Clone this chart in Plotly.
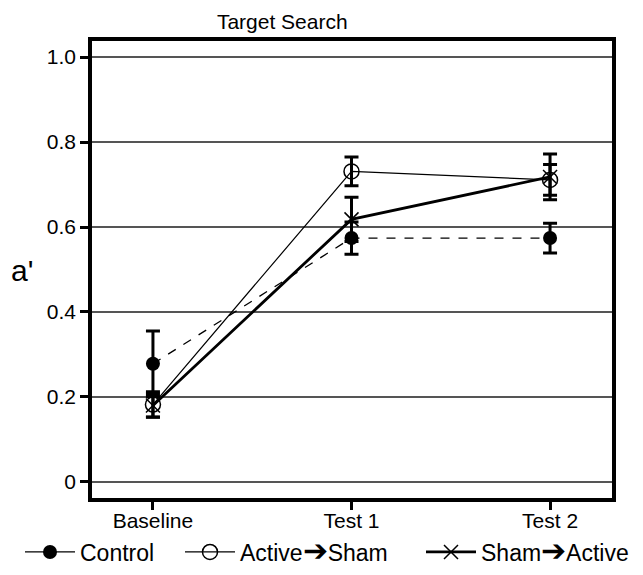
import plotly.graph_objects as go

categories = ["Baseline", "Test 1", "Test 2"]
control = [0.278, 0.574, 0.574]
control_err = [0.077, 0.038, 0.035]
active_sham = [0.182, 0.731, 0.711]
active_sham_err = [0.030, 0.034, 0.036]
sham_active = [0.180, 0.618, 0.718]
sham_active_err = [0.027, 0.052, 0.054]
yticks = [0, 0.2, 0.4, 0.6, 0.8, 1.0]
ytick_labels = ["0", "0.2", "0.4", "0.6", "0.8", "1.0"]

xpos = list(range(len(categories)))
font = "Liberation Sans, Arial, sans-serif"
arrow = '<span style="font-size:30px">➔</span>'

fig = go.Figure()
fig.add_trace(go.Scatter(
    x=xpos, y=control, name="Control", mode="lines+markers", showlegend=False,
    line=dict(color="black", width=1.3, dash="dash"),
    marker=dict(symbol="circle", size=14, color="black"),
    error_y=dict(type="data", array=control_err, color="black", thickness=3, width=7),
))
# legend entry for Control (solid line sample, as in the reference legend)
fig.add_trace(go.Scatter(
    x=[None], y=[None], name="Control", mode="lines+markers", legend="legend",
    line=dict(color="black", width=1.3),
    marker=dict(symbol="circle", size=14, color="black"),
))
fig.add_trace(go.Scatter(
    x=xpos, y=active_sham, name="Active" + arrow + "Sham", mode="lines+markers", legend="legend2",
    line=dict(color="black", width=1.2),
    marker=dict(symbol="circle-open", size=15, color="black", line=dict(width=1.5)),
    error_y=dict(type="data", array=active_sham_err, color="black", thickness=3, width=7),
))
fig.add_trace(go.Scatter(
    x=xpos, y=sham_active, name="Sham" + arrow + "Active", mode="lines+markers", legend="legend3",
    line=dict(color="black", width=2.8),
    marker=dict(symbol="x-thin", size=14, color="black", line=dict(width=1.5, color="black")),
    error_y=dict(type="data", array=sham_active_err, color="black", thickness=3, width=7),
))

legend_common = dict(orientation="h", xanchor="left", xref="container",
                     y=1 - 552 / 575, yanchor="middle", yref="container", font=dict(size=23),
                     itemwidth=50, bgcolor="rgba(0,0,0,0)")

fig.update_layout(
    width=643, height=575,
    margin=dict(l=92, r=31, t=41, b=77, autoexpand=False),
    paper_bgcolor="white", plot_bgcolor="white",
    font=dict(family=font, size=21, color="black"),
    title=dict(text="Target Search", x=0.439, xanchor="center", xref="container",
               y=1 - 22 / 575, yanchor="middle", yref="container",
               font=dict(size=21)),
    showlegend=True,
    legend=dict(x=20 / 643, **legend_common),
    legend2=dict(x=180 / 643, **legend_common),
    legend3=dict(x=421 / 643, **legend_common),
)
fig.update_xaxes(
    range=[-0.307, 2.312], tickvals=xpos, ticktext=categories, tickangle=0,
    showgrid=False, zeroline=False,
    showline=True, linecolor="black", linewidth=3.5, mirror=True,
    ticks="outside", ticklen=8, tickwidth=2.5, tickcolor="black",
    ticklabelstandoff=-7,
)
fig.update_yaxes(
    range=[-0.038, 1.038], tickvals=yticks, ticktext=ytick_labels,
    showgrid=True, gridcolor="#555555", gridwidth=1.5, zeroline=False,
    showline=True, linecolor="black", linewidth=3.5, mirror=True,
    ticks="outside", ticklen=8, tickwidth=2.5, tickcolor="black",
)
fig.add_annotation(text="a'", xref="paper", yref="paper", x=(22 - 92) / 520, y=(498 - 270) / 457,
                   showarrow=False, font=dict(size=30), xanchor="center", yanchor="middle")

fig.write_html("out.html", config={"displayModeBar": False},
               post_script="document.body.style.margin='0';")
